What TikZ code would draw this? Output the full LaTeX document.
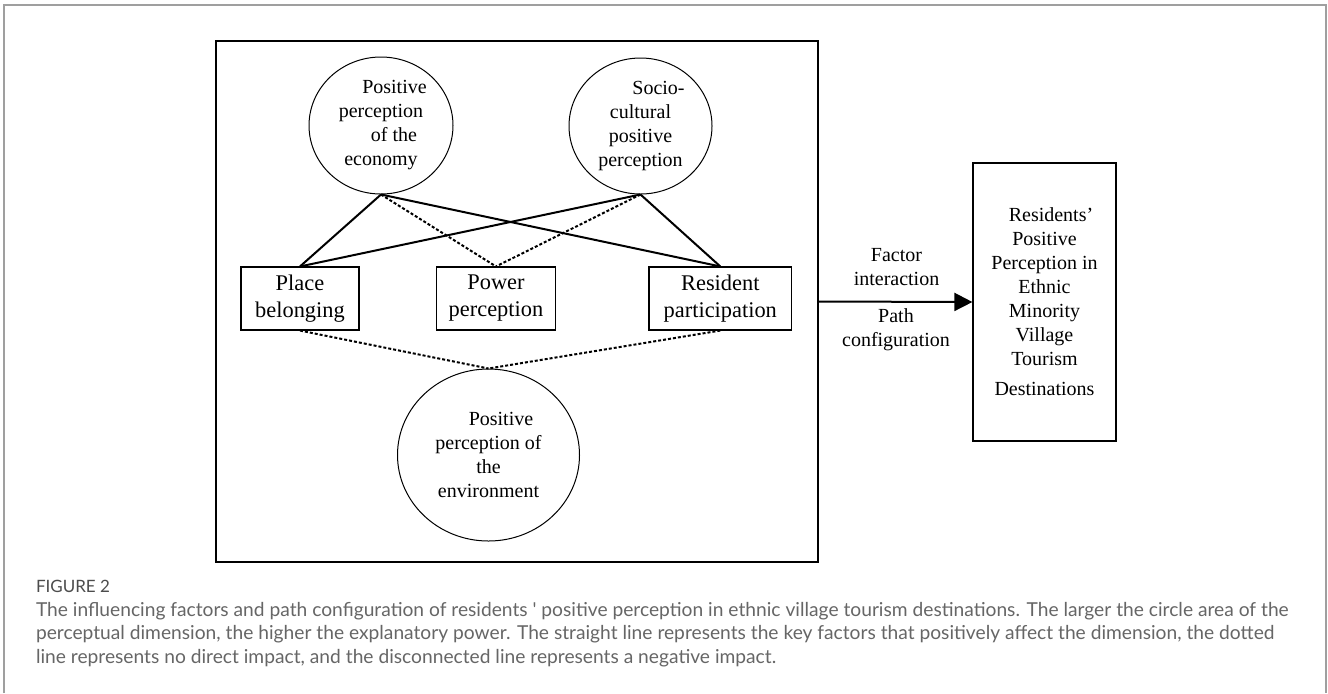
\documentclass[tikz,border=0pt]{standalone}
\usepackage{fontspec}
\setmainfont{Liberation Serif}
\newfontfamily\capfont{Lato}
\usetikzlibrary{shapes.geometric,arrows.meta}
\begin{document}
\begin{tikzpicture}[x=0.5pt,y=-0.5pt,
  circ/.style={ellipse,draw,line width=0.5pt,inner sep=0pt,align=center,font=\fontsize{10}{12}\selectfont},
  fbox/.style={rectangle,draw,line width=0.55pt,inner sep=0pt,align=center,font=\fontsize{11.2}{13.5}\selectfont,minimum height=31.5pt},
  posline/.style={line width=1pt},
  nodirline/.style={line width=1pt,dash pattern=on 1.5pt off 1pt},
  lbl/.style={align=center,font=\fontsize{10}{12}\selectfont,inner sep=0pt}]
\useasboundingbox (0,0) rectangle (1328,693);
\fill[white] (0,0) rectangle (1328,693);
\draw[gray!75,line width=0.6pt] (4,693) -- (4,5) -- (1326,5) -- (1326,693);

\node[draw,line width=0.65pt,rectangle,minimum width=301pt,minimum height=260.5pt,inner sep=0pt] (frame) at (517,301.5) {};

\node[circ,minimum width=72pt,minimum height=68.5pt] (eco) at (381,125.5) {\hspace*{13.5pt}Positive\\perception\\\hspace*{13pt}of the\\economy};
\node[circ,minimum width=71.5pt,minimum height=68pt] (soc) at (640.5,126) {\hspace*{18pt}Socio-\\cultural\\positive\\perception};
\node[circ,minimum width=91pt,minimum height=86pt] (env) at (488.5,455) {\hspace*{12.5pt}Positive\\perception of\\the\\environment};

\node[fbox,minimum width=59pt] (place) at (300,298.5) {Place\\belonging};
\node[fbox,minimum width=59.3pt] (power) at (496,298.5) {Power\\perception};
\node[fbox,minimum width=71.3pt] (res) at (720.3,298.5) {Resident\\participation};

\node[draw,line width=0.6pt,rectangle,minimum width=71.5pt,minimum height=139pt,inner sep=0pt,align=center,font=\fontsize{10}{12}\selectfont] (out) at (1044.5,302) {\hspace*{6.5pt}Residents’\\Positive\\Perception in\\Ethnic\\Minority\\Village\\Tourism\\[3pt]Destinations};

\draw[posline] (eco.south) -- (place.north);
\draw[posline] (eco.south) -- (res.north);
\draw[nodirline] (eco.south) -- (power.north);
\draw[posline] (soc.south) -- (place.north);
\draw[posline] (soc.south) -- (res.north);
\draw[nodirline] (soc.south) -- (power.north);
\draw[nodirline] (place.south) -- (env.north);
\draw[nodirline] (res.south) -- (env.north);
\draw[line width=1pt,-{Triangle[length=9pt,width=9pt]}] (frame.east) -- (out.west);

\node[lbl] (fi) at (896.5,266.7) {Factor\\interaction};
\node[lbl] (pc) at (896,330) {Path\\configuration};

\node[anchor=base west,inner sep=0pt,font=\capfont\fontsize{8.5}{9}\selectfont,text=black!70] (fig) at (35.6,592) {FIGURE 2};
\node[anchor=base west,inner sep=0pt,align=left,font=\capfont\fontsize{9.6}{11.65}\selectfont,text=black!60] (cap) at (35.6,663) {The influencing factors and path configuration of residents ' positive perception in ethnic village tourism destinations. The larger the circle area of the\\perceptual dimension, the higher the explanatory power. The straight line represents the key factors that positively affect the dimension, the dotted\\line represents no direct impact, and the disconnected line represents a negative impact.};
\end{tikzpicture}
\end{document}
